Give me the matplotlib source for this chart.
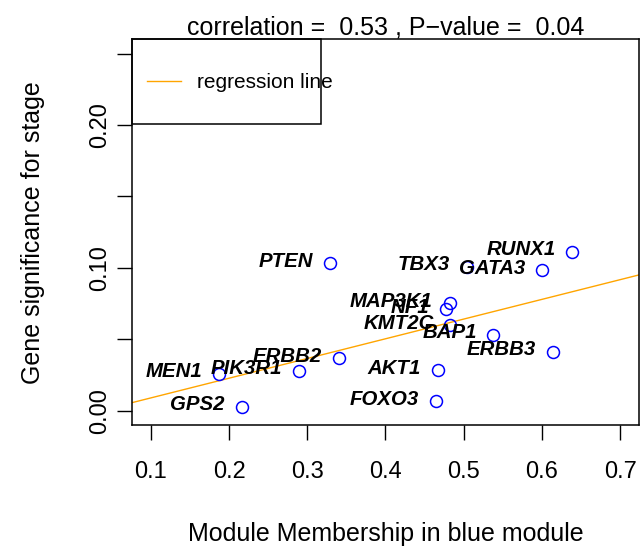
import numpy as np
import matplotlib
matplotlib.use("Agg")
import matplotlib.pyplot as plt
from matplotlib.patches import Rectangle

plt.rcParams['font.family'] = ['Liberation Sans', 'DejaVu Sans']

genes = ["RUNX1", "GATA3", "TBX3", "PTEN", "MAP3K1", "NF1", "KMT2C", "BAP1",
         "ERBB3", "ERBB2", "AKT1", "PIK3R1", "MEN1", "GPS2", "FOXO3"]
membership = [0.639, 0.600, 0.504, 0.329, 0.482, 0.477, 0.483, 0.538,
              0.614, 0.340, 0.467, 0.289, 0.187, 0.216, 0.464]
significance = [0.1114, 0.0984, 0.1007, 0.1033, 0.0753, 0.0711, 0.0597, 0.0532,
                0.0413, 0.0366, 0.0282, 0.0278, 0.0259, 0.0028, 0.0065]

xticks = [0.1, 0.2, 0.3, 0.4, 0.5, 0.6, 0.7]
yticks = [0.00, 0.05, 0.10, 0.15, 0.20, 0.25]
ytick_labels = ["0.00", "", "0.10", "", "0.20", ""]

fig = plt.figure(figsize=(6.4, 5.47), dpi=100)
ax = fig.add_axes([0.2063, 0.2230, 0.792, 0.7051])

ax.plot(membership, significance, 'o', mfc='none', mec='blue', ms=8.6, mew=1.1,
        zorder=3)

slope, intercept = np.polyfit(membership, significance, 1)
ax.axline((0, intercept), slope=slope, color='orange', lw=1.0, zorder=2)

for g, x, y in zip(genes, membership, significance):
    ax.annotate(g, (x, y), xytext=(-12, 1.5), textcoords='offset points',
                ha='right', va='center', fontsize=14.7, fontweight='bold',
                fontstyle='italic', zorder=4)

ax.set_xlim(0.076, 0.724)
ax.set_ylim(-0.01, 0.26)
ax.set_xticks(xticks)
ax.set_xticklabels([f"{v:g}" for v in xticks])
ax.set_yticks(yticks)
ax.set_yticklabels(ytick_labels, rotation=90, va='center')
ax.tick_params(axis='both', length=10.8, width=1.0, labelsize=17, direction='out')
ax.tick_params(axis='x', pad=15)
ax.tick_params(axis='y', pad=4)
for s in ax.spines.values():
    s.set_linewidth(1.1)

ax.set_title("correlation =  0.53 , P\u2212value =  0.04", fontsize=18, pad=3)
ax.set_xlabel("Module Membership in blue module", fontsize=18, labelpad=28)
ax.set_ylabel("Gene significance for stage", fontsize=18, labelpad=32)

# legend drawn like R's legend box
ax.add_patch(Rectangle((0, 0.780), 0.373, 0.22, transform=ax.transAxes,
                       fill=False, ec='black', lw=1.1, clip_on=False, zorder=5))
ax.plot([0.030, 0.097], [0.891, 0.891], transform=ax.transAxes, color='orange',
        lw=1.0, zorder=5)
ax.text(0.128, 0.888, "regression line", transform=ax.transAxes, fontsize=15,
        va='center', ha='left', zorder=5)

fig.savefig("out.png", dpi=100)
